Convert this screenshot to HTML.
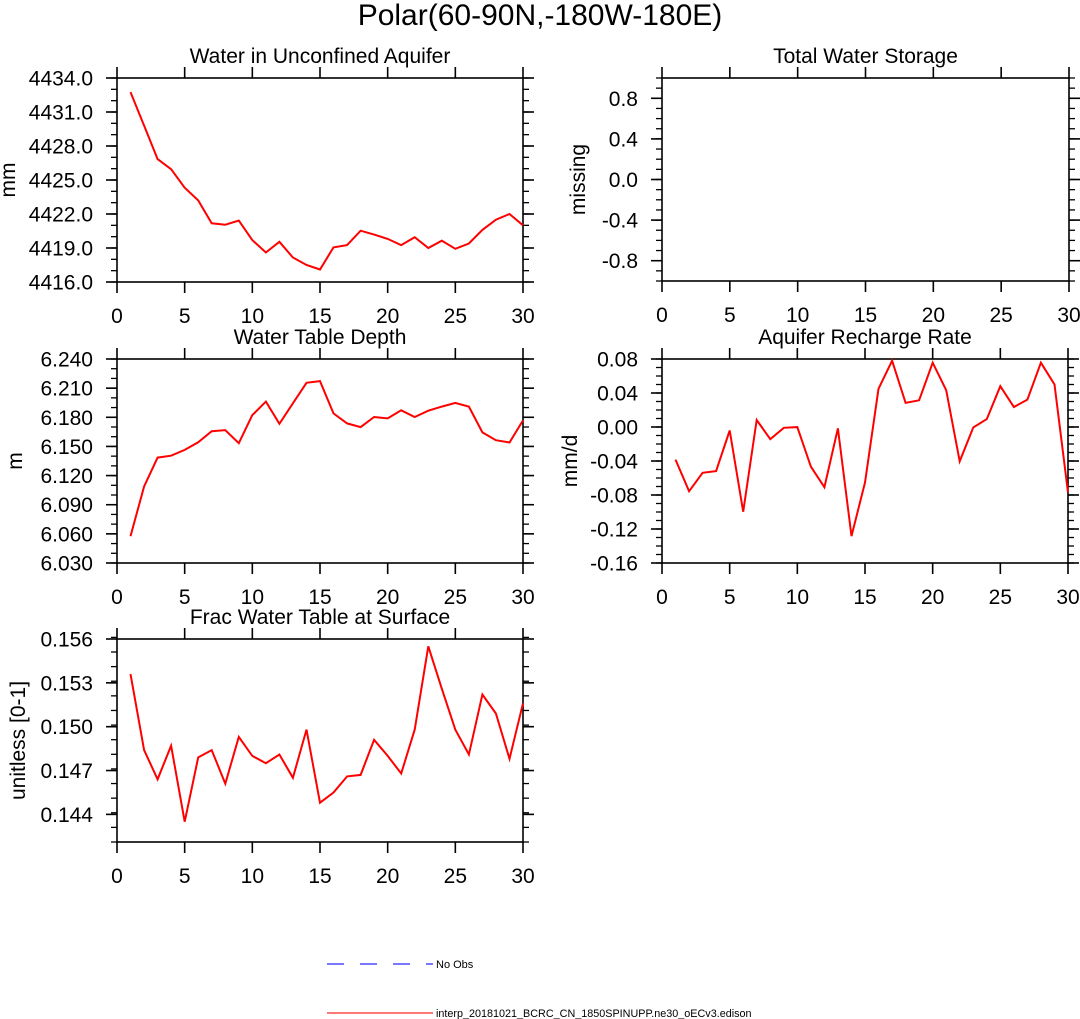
<!DOCTYPE html>
<html><head><meta charset="utf-8"><style>
html,body{margin:0;padding:0;background:#fff;}
svg{display:block;font-family:"Liberation Sans",Arial,sans-serif;}
</style></head><body>
<svg id="c" width="1080" height="1019" viewBox="0 0 1080 1019" xmlns="http://www.w3.org/2000/svg">
<text x="540" y="25" font-size="30" text-anchor="middle">Polar(60-90N,-180W-180E)</text>
<g>
<line x1="327" y1="964" x2="433" y2="964" stroke="#7777ff" stroke-width="2" stroke-dasharray="17,16"/>
<text x="436" y="968" font-size="11">No Obs</text>
<line x1="327" y1="1013" x2="433" y2="1013" stroke="#ff7777" stroke-width="2"/>
<text x="436" y="1017" font-size="10.8">interp_20181021_BCRC_CN_1850SPINUPP.ne30_oECv3.edison</text>
</g>
</svg>
<script>
const days = [1,2,3,4,5,6,7,8,9,10,11,12,13,14,15,16,17,18,19,20,21,22,23,24,25,26,27,28,29,30];
const xTicks = [0,5,10,15,20,25,30];
const aquiferWater = [4432.76,4429.8,4426.84,4425.95,4424.32,4423.2,4421.18,4421.06,4421.42,4419.7,4418.6,4419.55,4418.16,4417.5,4417.1,4419.05,4419.26,4420.53,4420.18,4419.8,4419.26,4419.95,4419.0,4419.64,4418.93,4419.4,4420.6,4421.5,4422.0,4421.0];
const aquiferTicks = [4416.0,4419.0,4422.0,4425.0,4428.0,4431.0,4434.0];
const tableDepth = [6.0576,6.1087,6.1385,6.1405,6.1464,6.1543,6.1657,6.1668,6.1533,6.1823,6.1961,6.1733,6.1944,6.2155,6.2172,6.184,6.1737,6.1699,6.1803,6.1789,6.1872,6.1803,6.1868,6.191,6.1948,6.191,6.1644,6.1564,6.154,6.1768];
const depthTicks = [6.030,6.060,6.090,6.120,6.150,6.180,6.210,6.240];
const rechargeRate = [-0.0384,-0.0756,-0.0539,-0.0519,-0.0041,-0.0997,0.0082,-0.0144,-0.0009,-0.0001,-0.0467,-0.0708,-0.0017,-0.1284,-0.0653,0.0449,0.078,0.0283,0.0314,0.0757,0.0433,-0.0404,-0.0005,0.0093,0.048,0.0235,0.0322,0.0757,0.05,-0.0771];
const rechargeTicks = [-0.16,-0.12,-0.08,-0.04,0.00,0.04,0.08];
const fracSurface = [0.1536,0.1484,0.1464,0.1487,0.1435,0.1479,0.1484,0.1461,0.1493,0.1480,0.1475,0.1481,0.1465,0.1498,0.1448,0.1455,0.1466,0.1467,0.1491,0.1480,0.1468,0.1498,0.1555,0.1526,0.1498,0.1481,0.1522,0.1509,0.1478,0.1516];
const fracTicks = [0.144,0.147,0.150,0.153,0.156];
const storageTicks = [-0.8,-0.4,0.0,0.4,0.8];

const NS='http://www.w3.org/2000/svg';
const svg=document.getElementById('c');
function mk(tag,attrs,parent){const e=document.createElementNS(NS,tag);for(const k in attrs)e.setAttribute(k,attrs[k]);(parent||svg).appendChild(e);return e;}

function panel(o){
  const g=mk('g',{});
  
  
  const L=o.x0,R=o.x1,T=o.y0,B=o.y1;
  const sx=v=>L+(v-0)/30*(R-L);
  const sy=v=>B-(v-o.ymin)/(o.ymax-o.ymin)*(B-T);
  const n=Math.round((o.ymax-o.ymin)/o.minor);
  for(let i=0;i<=n;i++){const y=sy(o.ymin+i*o.minor);
    mk('line',{x1:L-6,y1:y,x2:L,y2:y,stroke:'#000','stroke-width':1.3},g);
    mk('line',{x1:R,y1:y,x2:R+6,y2:y,stroke:'#000','stroke-width':1.3},g);}
  o.ticks.forEach(t=>{const y=sy(t);
    mk('line',{x1:L-11,y1:y,x2:L,y2:y,stroke:'#000','stroke-width':1.6},g);
    mk('line',{x1:R,y1:y,x2:R+11,y2:y,stroke:'#000','stroke-width':1.6},g);
    const tx=mk('text',{x:L-24,y:y+7.5,'font-size':21,'text-anchor':'end'},g);
    
    
    tx.textContent=t.toFixed(o.dec);});
  xTicks.forEach(t=>{const x=sx(t);
    mk('line',{x1:x,y1:B,x2:x,y2:B+11,stroke:'#000','stroke-width':1.6},g);
    mk('line',{x1:x,y1:T-11,x2:x,y2:T,stroke:'#000','stroke-width':1.6},g);
    const tx=mk('text',{x:x,y:B+41,'font-size':21,'text-anchor':'middle'},g);
    
    
    tx.textContent=t;});
  const box=mk('rect',{x:L,y:T,width:R-L,height:B-T,fill:'none',stroke:'#000','stroke-width':1.6},g);
  
  
  const tt=mk('text',{x:(L+R)/2,y:T-15,'font-size':21,'text-anchor':'middle'},g);
  
  
  tt.textContent=o.title;
  const yl=mk('text',{x:0,y:0,'font-size':21,'text-anchor':'middle',transform:`translate(${o.ylx},${(T+B)/2}) rotate(-90)`},g);
  
  
  yl.textContent=o.ylabel;
  if(o.data){
    const pts=days.map((d,i)=>sx(d).toFixed(1)+','+sy(o.data[i]).toFixed(1)).join(' ');
    const pl=mk('polyline',{points:pts,fill:'none',stroke:'#ff0000','stroke-width':2,'stroke-linejoin':'miter'},g);
    
    
  }
}
panel({name:'panel-water-unconfined-aquifer',title:'Water in Unconfined Aquifer',ylabel:'mm',ylx:15,x0:117,x1:523,y0:78,y1:282,ymin:4416,ymax:4434,minor:1,ticks:aquiferTicks,dec:1,data:aquiferWater});
panel({name:'panel-total-water-storage',title:'Total Water Storage',ylabel:'missing',ylx:585,x0:662,x1:1069,y0:78,y1:281,ymin:-1,ymax:1,minor:0.1,ticks:storageTicks,dec:1,data:null});
panel({name:'panel-water-table-depth',title:'Water Table Depth',ylabel:'m',ylx:22,x0:117,x1:523,y0:359,y1:563,ymin:6.03,ymax:6.24,minor:0.01,ticks:depthTicks,dec:3,data:tableDepth});
panel({name:'panel-aquifer-recharge-rate',title:'Aquifer Recharge Rate',ylabel:'mm/d',ylx:577,x0:662,x1:1068,y0:359,y1:563,ymin:-0.16,ymax:0.08,minor:0.01,ticks:rechargeTicks,dec:2,data:rechargeRate});
panel({name:'panel-frac-water-table-surface',title:'Frac Water Table at Surface',ylabel:'unitless [0-1]',ylx:25,x0:117,x1:523,y0:639,y1:842,ymin:0.14211,ymax:0.156,minor:0.001,ticks:fracTicks,dec:3,data:fracSurface});
</script>
</body></html>
